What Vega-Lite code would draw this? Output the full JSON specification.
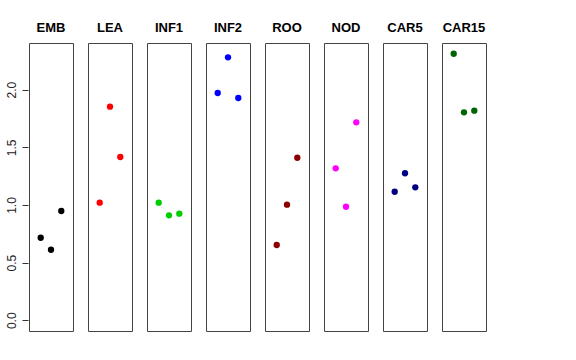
{
  "$schema": "https://vega.github.io/schema/vega-lite/v6.json",
  "background": "white",
  "padding": {"left": 5, "top": 22, "right": 0, "bottom": 0},
  "data": {"values": [
    {"g": "EMB", "i": 1, "v": 0.716}, {"g": "EMB", "i": 2, "v": 0.612}, {"g": "EMB", "i": 3, "v": 0.948},
    {"g": "LEA", "i": 1, "v": 1.020}, {"g": "LEA", "i": 2, "v": 1.853}, {"g": "LEA", "i": 3, "v": 1.416},
    {"g": "INF1", "i": 1, "v": 1.020}, {"g": "INF1", "i": 2, "v": 0.910}, {"g": "INF1", "i": 3, "v": 0.925},
    {"g": "INF2", "i": 1, "v": 1.971}, {"g": "INF2", "i": 2, "v": 2.281}, {"g": "INF2", "i": 3, "v": 1.928},
    {"g": "ROO", "i": 1, "v": 0.653}, {"g": "ROO", "i": 2, "v": 1.003}, {"g": "ROO", "i": 3, "v": 1.410},
    {"g": "NOD", "i": 1, "v": 1.318}, {"g": "NOD", "i": 2, "v": 0.985}, {"g": "NOD", "i": 3, "v": 1.717},
    {"g": "CAR5", "i": 1, "v": 1.115}, {"g": "CAR5", "i": 2, "v": 1.275}, {"g": "CAR5", "i": 3, "v": 1.153},
    {"g": "CAR15", "i": 1, "v": 2.312}, {"g": "CAR15", "i": 2, "v": 1.804}, {"g": "CAR15", "i": 3, "v": 1.818}
  ]},
  "facet": {
    "column": {
      "field": "g", "type": "nominal",
      "sort": ["EMB", "LEA", "INF1", "INF2", "ROO", "NOD", "CAR5", "CAR15"],
      "header": {"title": null, "labelFontWeight": "bold", "labelFontSize": 13, "labelFont": "Liberation Sans", "labelPadding": 7, "labelColor": "black"}
    }
  },
  "spacing": 13,
  "spec": {
    "width": 44,
    "height": 288,
    "mark": {"type": "circle", "size": 40, "opacity": 1},
    "encoding": {
      "x": {"field": "i", "type": "quantitative", "scale": {"domain": [-0.137, 4.137], "nice": false, "zero": false}, "axis": null},
      "y": {"field": "v", "type": "quantitative", "title": null,
        "scale": {"domain": [-0.093, 2.405], "nice": false, "zero": false},
        "axis": {"values": [0, 0.5, 1, 1.5, 2], "format": ".1f", "grid": false, "domain": false, "tickSize": 6, "tickColor": "#333", "labelAngle": 270, "labelAlign": "center", "labelBaseline": "bottom", "labelPadding": 4, "labelFont": "Liberation Sans", "labelFontSize": 12, "labelColor": "#222"}},
      "color": {"field": "g", "type": "nominal", "legend": null,
        "scale": {"domain": ["EMB", "LEA", "INF1", "INF2", "ROO", "NOD", "CAR5", "CAR15"],
          "range": ["#000000", "#ff0000", "#00cd00", "#0000ff", "#8b0000", "#ff00ff", "#000080", "#006400"]}}
    }
  },
  "config": {"view": {"stroke": "#444", "strokeWidth": 1}}
}
